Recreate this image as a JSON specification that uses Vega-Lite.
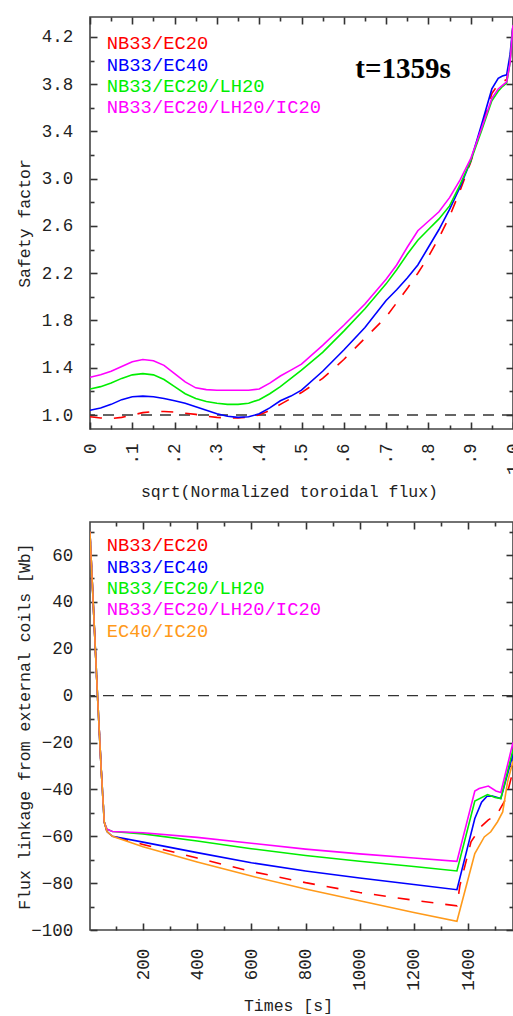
{
  "$schema": "https://vega.github.io/schema/vega-lite/v6.json",
  "background": "white",
  "padding": {"left": 15, "top": 15, "right": 0, "bottom": 8},
  "bounds": "flush",
  "spacing": 93,
  "datasets": {
    "q": [
      {"s":"NB33/EC40","x":0,"q":1.04},{"s":"NB33/EC40","x":0.025,"q":1.06},{"s":"NB33/EC40","x":0.05,"q":1.09},{"s":"NB33/EC40","x":0.075,"q":1.13},{"s":"NB33/EC40","x":0.1,"q":1.155},{"s":"NB33/EC40","x":0.125,"q":1.16},{"s":"NB33/EC40","x":0.15,"q":1.155},{"s":"NB33/EC40","x":0.175,"q":1.14},{"s":"NB33/EC40","x":0.2,"q":1.12},{"s":"NB33/EC40","x":0.225,"q":1.1},{"s":"NB33/EC40","x":0.25,"q":1.07},{"s":"NB33/EC40","x":0.275,"q":1.04},{"s":"NB33/EC40","x":0.3,"q":1.01},{"s":"NB33/EC40","x":0.325,"q":0.99},{"s":"NB33/EC40","x":0.35,"q":0.98},{"s":"NB33/EC40","x":0.375,"q":0.985},{"s":"NB33/EC40","x":0.4,"q":1.01},{"s":"NB33/EC40","x":0.425,"q":1.06},{"s":"NB33/EC40","x":0.45,"q":1.12},{"s":"NB33/EC40","x":0.475,"q":1.16},{"s":"NB33/EC40","x":0.5,"q":1.21},{"s":"NB33/EC40","x":0.55,"q":1.37},{"s":"NB33/EC40","x":0.6,"q":1.55},{"s":"NB33/EC40","x":0.65,"q":1.74},{"s":"NB33/EC40","x":0.7,"q":1.97},{"s":"NB33/EC40","x":0.725,"q":2.06},{"s":"NB33/EC40","x":0.75,"q":2.16},{"s":"NB33/EC40","x":0.775,"q":2.27},{"s":"NB33/EC40","x":0.8,"q":2.42},{"s":"NB33/EC40","x":0.825,"q":2.57},{"s":"NB33/EC40","x":0.85,"q":2.74},{"s":"NB33/EC40","x":0.875,"q":2.93},{"s":"NB33/EC40","x":0.9,"q":3.15},{"s":"NB33/EC40","x":0.925,"q":3.45},{"s":"NB33/EC40","x":0.95,"q":3.76},{"s":"NB33/EC40","x":0.965,"q":3.85},{"s":"NB33/EC40","x":0.975,"q":3.87},{"s":"NB33/EC40","x":0.985,"q":3.88},{"s":"NB33/EC40","x":0.993,"q":4.05},{"s":"NB33/EC40","x":1,"q":4.3},
      {"s":"NB33/EC20/LH20","x":0,"q":1.22},{"s":"NB33/EC20/LH20","x":0.025,"q":1.24},{"s":"NB33/EC20/LH20","x":0.05,"q":1.27},{"s":"NB33/EC20/LH20","x":0.075,"q":1.31},{"s":"NB33/EC20/LH20","x":0.1,"q":1.34},{"s":"NB33/EC20/LH20","x":0.125,"q":1.35},{"s":"NB33/EC20/LH20","x":0.15,"q":1.34},{"s":"NB33/EC20/LH20","x":0.175,"q":1.3},{"s":"NB33/EC20/LH20","x":0.2,"q":1.24},{"s":"NB33/EC20/LH20","x":0.225,"q":1.18},{"s":"NB33/EC20/LH20","x":0.25,"q":1.14},{"s":"NB33/EC20/LH20","x":0.275,"q":1.115},{"s":"NB33/EC20/LH20","x":0.3,"q":1.1},{"s":"NB33/EC20/LH20","x":0.325,"q":1.09},{"s":"NB33/EC20/LH20","x":0.35,"q":1.09},{"s":"NB33/EC20/LH20","x":0.375,"q":1.1},{"s":"NB33/EC20/LH20","x":0.4,"q":1.13},{"s":"NB33/EC20/LH20","x":0.425,"q":1.18},{"s":"NB33/EC20/LH20","x":0.45,"q":1.24},{"s":"NB33/EC20/LH20","x":0.475,"q":1.31},{"s":"NB33/EC20/LH20","x":0.5,"q":1.38},{"s":"NB33/EC20/LH20","x":0.55,"q":1.53},{"s":"NB33/EC20/LH20","x":0.6,"q":1.71},{"s":"NB33/EC20/LH20","x":0.65,"q":1.9},{"s":"NB33/EC20/LH20","x":0.7,"q":2.11},{"s":"NB33/EC20/LH20","x":0.725,"q":2.23},{"s":"NB33/EC20/LH20","x":0.75,"q":2.36},{"s":"NB33/EC20/LH20","x":0.775,"q":2.48},{"s":"NB33/EC20/LH20","x":0.8,"q":2.57},{"s":"NB33/EC20/LH20","x":0.825,"q":2.66},{"s":"NB33/EC20/LH20","x":0.85,"q":2.77},{"s":"NB33/EC20/LH20","x":0.875,"q":2.95},{"s":"NB33/EC20/LH20","x":0.9,"q":3.15},{"s":"NB33/EC20/LH20","x":0.925,"q":3.4},{"s":"NB33/EC20/LH20","x":0.95,"q":3.66},{"s":"NB33/EC20/LH20","x":0.965,"q":3.74},{"s":"NB33/EC20/LH20","x":0.975,"q":3.78},{"s":"NB33/EC20/LH20","x":0.985,"q":3.81},{"s":"NB33/EC20/LH20","x":0.993,"q":3.98},{"s":"NB33/EC20/LH20","x":1,"q":4.3},
      {"s":"NB33/EC20/LH20/IC20","x":0,"q":1.32},{"s":"NB33/EC20/LH20/IC20","x":0.025,"q":1.34},{"s":"NB33/EC20/LH20/IC20","x":0.05,"q":1.37},{"s":"NB33/EC20/LH20/IC20","x":0.075,"q":1.41},{"s":"NB33/EC20/LH20/IC20","x":0.1,"q":1.45},{"s":"NB33/EC20/LH20/IC20","x":0.125,"q":1.47},{"s":"NB33/EC20/LH20/IC20","x":0.15,"q":1.46},{"s":"NB33/EC20/LH20/IC20","x":0.175,"q":1.42},{"s":"NB33/EC20/LH20/IC20","x":0.2,"q":1.35},{"s":"NB33/EC20/LH20/IC20","x":0.225,"q":1.28},{"s":"NB33/EC20/LH20/IC20","x":0.25,"q":1.23},{"s":"NB33/EC20/LH20/IC20","x":0.275,"q":1.215},{"s":"NB33/EC20/LH20/IC20","x":0.3,"q":1.21},{"s":"NB33/EC20/LH20/IC20","x":0.325,"q":1.21},{"s":"NB33/EC20/LH20/IC20","x":0.35,"q":1.21},{"s":"NB33/EC20/LH20/IC20","x":0.375,"q":1.21},{"s":"NB33/EC20/LH20/IC20","x":0.4,"q":1.22},{"s":"NB33/EC20/LH20/IC20","x":0.425,"q":1.27},{"s":"NB33/EC20/LH20/IC20","x":0.45,"q":1.33},{"s":"NB33/EC20/LH20/IC20","x":0.475,"q":1.38},{"s":"NB33/EC20/LH20/IC20","x":0.5,"q":1.43},{"s":"NB33/EC20/LH20/IC20","x":0.55,"q":1.59},{"s":"NB33/EC20/LH20/IC20","x":0.6,"q":1.76},{"s":"NB33/EC20/LH20/IC20","x":0.65,"q":1.94},{"s":"NB33/EC20/LH20/IC20","x":0.7,"q":2.15},{"s":"NB33/EC20/LH20/IC20","x":0.725,"q":2.27},{"s":"NB33/EC20/LH20/IC20","x":0.75,"q":2.42},{"s":"NB33/EC20/LH20/IC20","x":0.775,"q":2.56},{"s":"NB33/EC20/LH20/IC20","x":0.8,"q":2.64},{"s":"NB33/EC20/LH20/IC20","x":0.825,"q":2.72},{"s":"NB33/EC20/LH20/IC20","x":0.85,"q":2.84},{"s":"NB33/EC20/LH20/IC20","x":0.875,"q":2.99},{"s":"NB33/EC20/LH20/IC20","x":0.9,"q":3.17},{"s":"NB33/EC20/LH20/IC20","x":0.925,"q":3.42},{"s":"NB33/EC20/LH20/IC20","x":0.95,"q":3.68},{"s":"NB33/EC20/LH20/IC20","x":0.965,"q":3.76},{"s":"NB33/EC20/LH20/IC20","x":0.975,"q":3.79},{"s":"NB33/EC20/LH20/IC20","x":0.985,"q":3.82},{"s":"NB33/EC20/LH20/IC20","x":0.993,"q":3.98},{"s":"NB33/EC20/LH20/IC20","x":1,"q":4.3},
      {"s":"NB33/EC20","x":0,"q":0.985},{"s":"NB33/EC20","x":0.025,"q":0.975},{"s":"NB33/EC20","x":0.05,"q":0.97},{"s":"NB33/EC20","x":0.075,"q":0.98},{"s":"NB33/EC20","x":0.1,"q":1.0},{"s":"NB33/EC20","x":0.125,"q":1.02},{"s":"NB33/EC20","x":0.15,"q":1.03},{"s":"NB33/EC20","x":0.175,"q":1.03},{"s":"NB33/EC20","x":0.2,"q":1.025},{"s":"NB33/EC20","x":0.225,"q":1.015},{"s":"NB33/EC20","x":0.25,"q":1.005},{"s":"NB33/EC20","x":0.275,"q":0.99},{"s":"NB33/EC20","x":0.3,"q":0.98},{"s":"NB33/EC20","x":0.325,"q":0.975},{"s":"NB33/EC20","x":0.35,"q":0.975},{"s":"NB33/EC20","x":0.375,"q":0.98},{"s":"NB33/EC20","x":0.4,"q":1.0},{"s":"NB33/EC20","x":0.425,"q":1.04},{"s":"NB33/EC20","x":0.45,"q":1.09},{"s":"NB33/EC20","x":0.475,"q":1.14},{"s":"NB33/EC20","x":0.5,"q":1.19},{"s":"NB33/EC20","x":0.55,"q":1.31},{"s":"NB33/EC20","x":0.6,"q":1.47},{"s":"NB33/EC20","x":0.65,"q":1.65},{"s":"NB33/EC20","x":0.7,"q":1.83},{"s":"NB33/EC20","x":0.725,"q":1.95},{"s":"NB33/EC20","x":0.75,"q":2.07},{"s":"NB33/EC20","x":0.775,"q":2.2},{"s":"NB33/EC20","x":0.8,"q":2.34},{"s":"NB33/EC20","x":0.825,"q":2.5},{"s":"NB33/EC20","x":0.85,"q":2.68},{"s":"NB33/EC20","x":0.875,"q":2.9},{"s":"NB33/EC20","x":0.9,"q":3.14},{"s":"NB33/EC20","x":0.925,"q":3.43},{"s":"NB33/EC20","x":0.95,"q":3.72},{"s":"NB33/EC20","x":0.965,"q":3.8},{"s":"NB33/EC20","x":0.975,"q":3.82},{"s":"NB33/EC20","x":0.985,"q":3.84},{"s":"NB33/EC20","x":0.993,"q":4.0},{"s":"NB33/EC20","x":1,"q":4.3}
    ],
    "flux": [
      {"s":"NB33/EC40","t":4,"v":70},{"s":"NB33/EC40","t":20,"v":30},{"s":"NB33/EC40","t":32,"v":0},{"s":"NB33/EC40","t":45,"v":-30},{"s":"NB33/EC40","t":57,"v":-54},{"s":"NB33/EC40","t":67,"v":-58},{"s":"NB33/EC40","t":87,"v":-60},{"s":"NB33/EC40","t":200,"v":-62.5},{"s":"NB33/EC40","t":400,"v":-67},{"s":"NB33/EC40","t":600,"v":-71.3},{"s":"NB33/EC40","t":800,"v":-74.8},{"s":"NB33/EC40","t":1000,"v":-77.8},{"s":"NB33/EC40","t":1200,"v":-80.6},{"s":"NB33/EC40","t":1359,"v":-82.8},{"s":"NB33/EC40","t":1425,"v":-52.4},{"s":"NB33/EC40","t":1450,"v":-45.5},{"s":"NB33/EC40","t":1470,"v":-42.9},{"s":"NB33/EC40","t":1490,"v":-42.8},{"s":"NB33/EC40","t":1521,"v":-43.9},{"s":"NB33/EC40","t":1566,"v":-25},
      {"s":"NB33/EC20/LH20","t":4,"v":70},{"s":"NB33/EC20/LH20","t":20,"v":30},{"s":"NB33/EC20/LH20","t":32,"v":0},{"s":"NB33/EC20/LH20","t":45,"v":-30},{"s":"NB33/EC20/LH20","t":57,"v":-54},{"s":"NB33/EC20/LH20","t":67,"v":-57},{"s":"NB33/EC20/LH20","t":87,"v":-58},{"s":"NB33/EC20/LH20","t":200,"v":-59},{"s":"NB33/EC20/LH20","t":400,"v":-62},{"s":"NB33/EC20/LH20","t":600,"v":-65.3},{"s":"NB33/EC20/LH20","t":800,"v":-68.2},{"s":"NB33/EC20/LH20","t":1000,"v":-70.7},{"s":"NB33/EC20/LH20","t":1200,"v":-72.9},{"s":"NB33/EC20/LH20","t":1359,"v":-74.8},{"s":"NB33/EC20/LH20","t":1425,"v":-45},{"s":"NB33/EC20/LH20","t":1472,"v":-42.2},{"s":"NB33/EC20/LH20","t":1500,"v":-43.5},{"s":"NB33/EC20/LH20","t":1521,"v":-43.9},{"s":"NB33/EC20/LH20","t":1566,"v":-23},
      {"s":"NB33/EC20/LH20/IC20","t":4,"v":70},{"s":"NB33/EC20/LH20/IC20","t":20,"v":30},{"s":"NB33/EC20/LH20/IC20","t":32,"v":0},{"s":"NB33/EC20/LH20/IC20","t":45,"v":-30},{"s":"NB33/EC20/LH20/IC20","t":57,"v":-54},{"s":"NB33/EC20/LH20/IC20","t":67,"v":-57},{"s":"NB33/EC20/LH20/IC20","t":87,"v":-58},{"s":"NB33/EC20/LH20/IC20","t":200,"v":-58.5},{"s":"NB33/EC20/LH20/IC20","t":400,"v":-60.5},{"s":"NB33/EC20/LH20/IC20","t":600,"v":-63},{"s":"NB33/EC20/LH20/IC20","t":800,"v":-65.5},{"s":"NB33/EC20/LH20/IC20","t":1000,"v":-67.5},{"s":"NB33/EC20/LH20/IC20","t":1200,"v":-69.3},{"s":"NB33/EC20/LH20/IC20","t":1359,"v":-70.7},{"s":"NB33/EC20/LH20/IC20","t":1425,"v":-40.7},{"s":"NB33/EC20/LH20/IC20","t":1441,"v":-39.6},{"s":"NB33/EC20/LH20/IC20","t":1475,"v":-38.6},{"s":"NB33/EC20/LH20/IC20","t":1503,"v":-40.7},{"s":"NB33/EC20/LH20/IC20","t":1521,"v":-41.3},{"s":"NB33/EC20/LH20/IC20","t":1566,"v":-20},
      {"s":"EC40/IC20","t":4,"v":70},{"s":"EC40/IC20","t":20,"v":30},{"s":"EC40/IC20","t":32,"v":0},{"s":"EC40/IC20","t":45,"v":-30},{"s":"EC40/IC20","t":57,"v":-54},{"s":"EC40/IC20","t":67,"v":-58},{"s":"EC40/IC20","t":87,"v":-60},{"s":"EC40/IC20","t":200,"v":-64.5},{"s":"EC40/IC20","t":400,"v":-71},{"s":"EC40/IC20","t":600,"v":-77},{"s":"EC40/IC20","t":800,"v":-82.5},{"s":"EC40/IC20","t":1000,"v":-87.5},{"s":"EC40/IC20","t":1200,"v":-92.5},{"s":"EC40/IC20","t":1359,"v":-96.3},{"s":"EC40/IC20","t":1425,"v":-67.4},{"s":"EC40/IC20","t":1460,"v":-60.3},{"s":"EC40/IC20","t":1484,"v":-58.1},{"s":"EC40/IC20","t":1509,"v":-53.8},{"s":"EC40/IC20","t":1528,"v":-49.6},{"s":"EC40/IC20","t":1546,"v":-36.8},{"s":"EC40/IC20","t":1566,"v":-28},
      {"s":"NB33/EC20","t":4,"v":70},{"s":"NB33/EC20","t":20,"v":30},{"s":"NB33/EC20","t":32,"v":0},{"s":"NB33/EC20","t":45,"v":-30},{"s":"NB33/EC20","t":57,"v":-54},{"s":"NB33/EC20","t":67,"v":-58},{"s":"NB33/EC20","t":87,"v":-60},{"s":"NB33/EC20","t":200,"v":-63.5},{"s":"NB33/EC20","t":400,"v":-69.3},{"s":"NB33/EC20","t":600,"v":-75},{"s":"NB33/EC20","t":800,"v":-79.8},{"s":"NB33/EC20","t":1000,"v":-84},{"s":"NB33/EC20","t":1200,"v":-87.3},{"s":"NB33/EC20","t":1359,"v":-89.7},{"s":"NB33/EC20","t":1370,"v":-81},{"s":"NB33/EC20","t":1411,"v":-62.4},{"s":"NB33/EC20","t":1447,"v":-56},{"s":"NB33/EC20","t":1475,"v":-53},{"s":"NB33/EC20","t":1505,"v":-51},{"s":"NB33/EC20","t":1540,"v":-44},{"s":"NB33/EC20","t":1566,"v":-32}
    ]
  },
  "vconcat": [
    {
      "width": 423,
      "height": 412,
      "layer": [
        {
          "data": {"values": [{"ref": 1}]},
          "mark": {"type": "rule", "color": "#333333", "strokeWidth": 1.3, "strokeDash": [11, 8]},
          "encoding": {"y": {"field": "ref", "type": "quantitative", "axis": null}}
        },
        {
          "data": {"name": "q"},
          "transform": [{"filter": "datum.s === 'NB33/EC20'"}],
          "mark": {"type": "line", "color": "#ff0000", "strokeWidth": 1.6, "strokeDash": [12, 12], "clip": true},
          "encoding": {
            "x": {"field": "x", "type": "quantitative",
              "axis": {"orient": "top", "labels": false, "title": null, "tickSize": 7, "offset": -7,
                "values": [0,0.1,0.2,0.3,0.4,0.5,0.6,0.7,0.8,0.9,1]}},
            "y": {"field": "q", "type": "quantitative",
              "axis": {"orient": "right", "labels": false, "title": null, "tickSize": 7, "offset": -7,
                "values": [1,1.4,1.8,2.2,2.6,3,3.4,3.8,4.2]}}
          }
        },
        {
          "data": {"name": "q"},
          "transform": [{"filter": "datum.s === 'NB33/EC40' || datum.s === 'NB33/EC20/LH20'"}],
          "mark": {"type": "line", "strokeWidth": 1.6, "clip": true},
          "encoding": {
            "x": {"field": "x", "type": "quantitative",
              "scale": {"domain": [0, 1], "nice": false, "zero": false},
              "axis": {"orient": "bottom", "tickSize": 7, "offset": -7,
                "values": [0,0.1,0.2,0.3,0.4,0.5,0.6,0.7,0.8,0.9,1],
                "labelExpr": "datum.value == 0 ? '0' : (datum.value > 0.99 ? '1.0' : '.' + format(datum.value*10, '.0f'))",
                "labelAngle": 270, "labelAlign": "right", "labelBaseline": "middle", "labelPadding": 14,
                "title": "sqrt(Normalized toroidal flux)", "titleX": 199, "titleY": 74, "titleBaseline": "alphabetic", "titleAlign": "center"}},
            "y": {"field": "q", "type": "quantitative",
              "scale": {"domain": [0.8815, 4.369], "nice": false, "zero": false},
              "axis": {"orient": "left", "tickSize": 7, "offset": -7,
                "values": [1,1.4,1.8,2.2,2.6,3,3.4,3.8,4.2],
                "format": ".1f", "labelAlign": "right", "labelBaseline": "middle",
                "labelPadding": 17.3,
                "title": "Safety factor", "titleX": -67.7, "titleBaseline": "alphabetic"}},
            "color": {"field": "s", "type": "nominal",
              "scale": {"domain": ["NB33/EC20", "NB33/EC40", "NB33/EC20/LH20", "NB33/EC20/LH20/IC20"], "range": ["#ff0000", "#0000ff", "#00ee00", "#ff00ff"]},
              "legend": {"orient": "none", "legendX": -2, "legendY": 17, "title": null,
                "encode": {"labels": {"update": {"fill": {"signal": "datum.value === 'NB33/EC20' ? '#ff0000' : datum.value === 'NB33/EC40' ? '#0000ff' : datum.value === 'NB33/EC20/LH20' ? '#00ee00' : datum.value === 'NB33/EC20/LH20/IC20' ? '#ff00ff' : '#ff9a1a'"}}}}}}
          }
        },
        {
          "data": {"name": "q"},
          "transform": [{"filter": "datum.s === 'NB33/EC20/LH20/IC20'"}],
          "mark": {"type": "line", "color": "#ff00ff", "strokeWidth": 1.6, "clip": true},
          "encoding": {
            "x": {"field": "x", "type": "quantitative",
              "axis": {"orient": "bottom", "labels": false, "title": null, "tickSize": 4, "offset": -4,
                "values": [0.05,0.15,0.25,0.35,0.45,0.55,0.65,0.75,0.85,0.95]}},
            "y": {"field": "q", "type": "quantitative",
              "axis": {"orient": "left", "labels": false, "title": null, "tickSize": 4, "offset": -4,
                "values": [1.2,1.6,2,2.4,2.8,3.2,3.6,4]}}
          }
        },
        {
          "data": {"values": [{"label": "t=1359s"}]},
          "mark": {"type": "text", "font": "Liberation Serif", "fontWeight": "bold", "fontSize": 29, "align": "center", "baseline": "alphabetic", "color": "#000000"},
          "encoding": {
            "x": {"datum": 0.74, "type": "quantitative",
              "axis": {"orient": "top", "labels": false, "title": null, "tickSize": 4, "offset": -4,
                "values": [0.05,0.15,0.25,0.35,0.45,0.55,0.65,0.75,0.85,0.95]}},
            "y": {"datum": 3.853, "type": "quantitative",
              "axis": {"orient": "right", "labels": false, "title": null, "tickSize": 4, "offset": -4,
                "values": [1.2,1.6,2,2.4,2.8,3.2,3.6,4]}},
            "text": {"field": "label"}
          }
        }
      ],
      "resolve": {"axis": {"x": "independent", "y": "independent"}}
    },
    {
      "width": 423,
      "height": 408,
      "layer": [
        {
          "data": {"values": [{"ref": 0}]},
          "mark": {"type": "rule", "color": "#333333", "strokeWidth": 1.3, "strokeDash": [11, 8]},
          "encoding": {"y": {"field": "ref", "type": "quantitative", "axis": null}}
        },
        {
          "data": {"name": "flux"},
          "transform": [{"filter": "datum.s === 'NB33/EC20'"}],
          "mark": {"type": "line", "color": "#ff0000", "strokeWidth": 1.6, "strokeDash": [12, 12], "clip": true},
          "encoding": {
            "x": {"field": "t", "type": "quantitative",
              "axis": {"orient": "top", "labels": false, "title": null, "tickSize": 7, "offset": -7,
                "values": [200,400,600,800,1000,1200,1400]}},
            "y": {"field": "v", "type": "quantitative",
              "axis": {"orient": "right", "labels": false, "title": null, "tickSize": 7, "offset": -7,
                "values": [-100,-80,-60,-40,-20,0,20,40,60]}}
          }
        },
        {
          "data": {"name": "flux"},
          "transform": [{"filter": "datum.s === 'NB33/EC40' || datum.s === 'NB33/EC20/LH20'"}],
          "mark": {"type": "line", "strokeWidth": 1.6, "clip": true},
          "encoding": {
            "x": {"field": "t", "type": "quantitative",
              "scale": {"domain": [4.3, 1566], "nice": false, "zero": false},
              "axis": {"orient": "bottom", "tickSize": 7, "offset": -7,
                "values": [200,400,600,800,1000,1200,1400],
                "format": "d",
                "labelAngle": 270, "labelAlign": "right", "labelBaseline": "middle", "labelPadding": 18.3,
                "title": "Times [s]", "titleX": 198, "titleY": 87.5, "titleBaseline": "alphabetic", "titleAlign": "center"}},
            "y": {"field": "v", "type": "quantitative",
              "scale": {"domain": [-100, 74.08], "nice": false, "zero": false},
              "axis": {"orient": "left", "tickSize": 7, "offset": -7,
                "values": [-100,-80,-60,-40,-20,0,20,40,60],
                "format": "d", "labelAlign": "right", "labelBaseline": "middle",
                "labelPadding": 17.3,
                "title": "Flux linkage from external coils [Wb]", "titleX": -67.7, "titleBaseline": "alphabetic"}},
            "color": {"field": "s", "type": "nominal",
              "scale": {"domain": ["NB33/EC20", "NB33/EC40", "NB33/EC20/LH20", "NB33/EC20/LH20/IC20", "EC40/IC20"], "range": ["#ff0000", "#0000ff", "#00ee00", "#ff00ff", "#ff9a1a"]},
              "legend": {"orient": "none", "legendX": -2, "legendY": 14, "title": null,
                "encode": {"labels": {"update": {"fill": {"signal": "datum.value === 'NB33/EC20' ? '#ff0000' : datum.value === 'NB33/EC40' ? '#0000ff' : datum.value === 'NB33/EC20/LH20' ? '#00ee00' : datum.value === 'NB33/EC20/LH20/IC20' ? '#ff00ff' : '#ff9a1a'"}}}}}}
          }
        },
        {
          "data": {"name": "flux"},
          "transform": [{"filter": "datum.s === 'NB33/EC20/LH20/IC20'"}],
          "mark": {"type": "line", "color": "#ff00ff", "strokeWidth": 1.6, "clip": true},
          "encoding": {
            "x": {"field": "t", "type": "quantitative",
              "axis": {"orient": "bottom", "labels": false, "title": null, "tickSize": 4, "offset": -4,
                "values": [100,300,500,700,900,1100,1300,1500]}},
            "y": {"field": "v", "type": "quantitative",
              "axis": {"orient": "left", "labels": false, "title": null, "tickSize": 4, "offset": -4,
                "values": [-90,-70,-50,-30,-10,10,30,50,70]}}
          }
        },
        {
          "data": {"name": "flux"},
          "transform": [{"filter": "datum.s === 'EC40/IC20'"}],
          "mark": {"type": "line", "color": "#ff9a1a", "strokeWidth": 1.6, "clip": true},
          "encoding": {
            "x": {"field": "t", "type": "quantitative",
              "axis": {"orient": "top", "labels": false, "title": null, "tickSize": 4, "offset": -4,
                "values": [100,300,500,700,900,1100,1300,1500]}},
            "y": {"field": "v", "type": "quantitative",
              "axis": {"orient": "right", "labels": false, "title": null, "tickSize": 4, "offset": -4,
                "values": [-90,-70,-50,-30,-10,10,30,50,70]}}
          }
        }
      ],
      "resolve": {"axis": {"x": "independent", "y": "independent"}}
    }
  ],
  "resolve": {"scale": {"color": "independent"}, "legend": {"color": "independent"}},
  "config": {
    "view": {"stroke": "#444444", "strokeWidth": 1.6},
    "axis": {
      "labelFont": "Liberation Mono", "labelFontSize": 17.5, "labelColor": "#222222",
      "titleFont": "Liberation Mono", "titleFontSize": 16.5, "titleFontWeight": "normal", "titleColor": "#222222",
      "tickColor": "#333333", "tickWidth": 1.6, "grid": false, "domain": false,
      "labelFlush": false, "labelOverlap": false, "labelBound": false
    },
    "legend": {
      "labelFont": "Liberation Mono", "labelFontSize": 18.8, "labelLimit": 500,
      "symbolSize": 0, "symbolStrokeWidth": 0, "symbolOpacity": 0, "labelOffset": 0,
      "rowPadding": 1.3, "padding": 0, "direction": "vertical"
    }
  }
}
